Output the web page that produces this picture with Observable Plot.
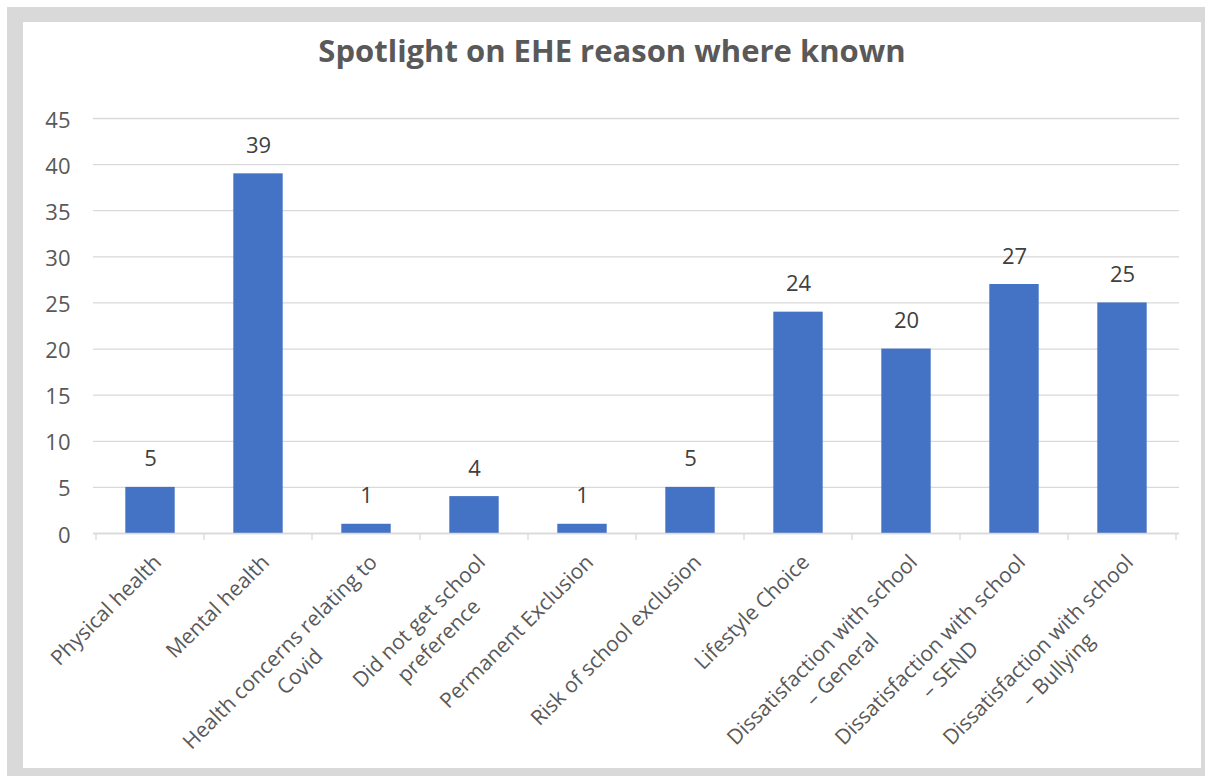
<!DOCTYPE html>
<html>
<head>
<meta charset="utf-8">
<script src="https://cdn.jsdelivr.net/npm/d3@7"></script>
<script src="https://cdn.jsdelivr.net/npm/@observablehq/plot@0.6"></script>
<style>
  html, body { margin: 0; padding: 0; background: #ffffff; }
  #frame {
    position: absolute; left: 7px; top: 7px; width: 1178px; height: 746px;
    border-style: solid; border-color: #d9d9d9;
    border-width: 15px 4px 8px 16px; background: #ffffff;
  }
  #title {
    position: absolute; left: 0; top: 7px; width: 100%; text-align: center;
    font-family: "Open Sans", sans-serif; font-weight: 700; font-size: 31px;
    line-height: 42px; color: #595959;
  }
  #chart { position: absolute; left: 0; top: 0; }
</style>
</head>
<body>
<div id="frame">
  <div id="title">Spotlight on EHE reason where known</div>
  <div id="chart"></div>
</div>
<script>
const categories = [
  "Physical health",
  "Mental health",
  "Health concerns relating to Covid",
  "Did not get school preference",
  "Permanent Exclusion",
  "Risk of school exclusion",
  "Lifestyle Choice",
  "Dissatisfaction with school – General",
  "Dissatisfaction with school – SEND",
  "Dissatisfaction with school – Bullying"
];
const tickLabels = [
  "Physical health",
  "Mental health",
  "Health concerns relating to\nCovid",
  "Did not get school\npreference",
  "Permanent Exclusion",
  "Risk of school exclusion",
  "Lifestyle Choice",
  "Dissatisfaction with school\n– General",
  "Dissatisfaction with school\n– SEND",
  "Dissatisfaction with school\n– Bullying"
];
const values = [5, 39, 1, 4, 1, 5, 24, 20, 27, 25];
const yTicks = [0, 5, 10, 15, 20, 25, 30, 35, 40, 45];

const data = categories.map((c, i) => ({category: c, value: values[i], label: tickLabels[i]}));

const GRID = "#d9d9d9";

function bandTicks(index, scales, values, dimensions) {
  const x = scales.x;
  const {width, height, marginLeft, marginRight, marginBottom} = dimensions;
  const bw = x.bandwidth ? x.bandwidth() : (width - marginLeft - marginRight) / categories.length;
  const y0 = height - marginBottom;
  const xs = categories.map(c => x(c)).concat([x(categories[categories.length - 1]) + bw]);
  const g = d3.create("svg:g");
  g.selectAll("line").data(xs).join("line")
    .attr("x1", d => d).attr("x2", d => d)
    .attr("y1", y0).attr("y2", y0 + 7)
    .attr("stroke", GRID).attr("stroke-width", 1.3);
  return g.node();
}

const chart = Plot.plot({
  width: 1178,
  height: 746,
  marginLeft: 70,
  marginRight: 22,
  marginTop: 96,
  marginBottom: 235,
  style: {fontFamily: "Open Sans, sans-serif", background: "transparent"},
  x: {domain: categories, padding: 0, axis: null},
  y: {domain: [0, 45], axis: null},
  marks: [
    Plot.gridY(yTicks, {stroke: GRID, strokeOpacity: 1, strokeWidth: 1.3}),
    Plot.axisY(yTicks, {label: null, tickSize: 0, tickPadding: 23, fontSize: 22, color: "#595959", dy: 2}),
    Plot.barY(data, {x: "category", y: "value", fill: "#4472c4", insetLeft: 29.3, insetRight: 29.3}),
    Plot.ruleY([0], {stroke: GRID, strokeWidth: 1.3}),
    bandTicks,
    Plot.text(data, {x: "category", y: "value", text: d => String(d.value), lineAnchor: "bottom", dy: -21, fontSize: 22, fill: "#404040"}),
    Plot.text(data, {x: "category", text: "label", frameAnchor: "bottom", rotate: -45, textAnchor: "end", lineAnchor: "top", lineHeight: 1.33, dx: -2, dy: 16, fontSize: 21, fill: "#595959"})
  ]
});

document.getElementById("chart").appendChild(chart);

// centre the second line of wrapped labels under the first, as the original does
function centreLines() {
  chart.querySelectorAll("text").forEach(t => {
    const spans = t.querySelectorAll("tspan");
    if (spans.length === 2) {
      const w1 = spans[0].getComputedTextLength();
      const w2 = spans[1].getComputedTextLength();
      spans[1].setAttribute("x", -(w1 - w2) / 2);
    }
  });
}
centreLines();
if (document.fonts && document.fonts.ready) document.fonts.ready.then(centreLines);
</script>
</body>
</html>
